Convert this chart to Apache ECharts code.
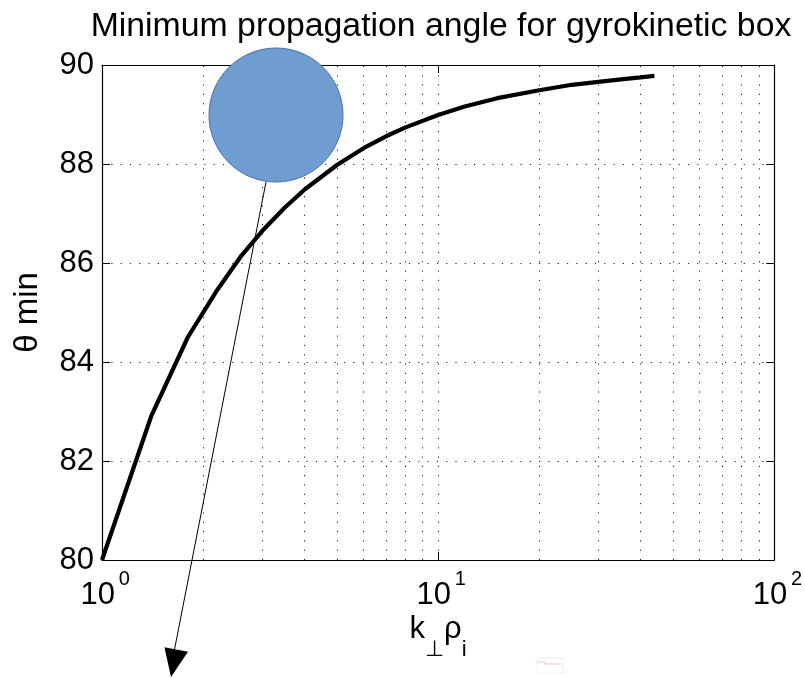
<!DOCTYPE html>
<html>
<head>
<meta charset="utf-8">
<script src="https://cdn.jsdelivr.net/npm/echarts@6/dist/echarts.min.js"></script>
<style>
  html, body { margin: 0; padding: 0; background: #ffffff; }
  #chart { width: 805px; height: 678px; }
</style>
</head>
<body>
<div id="chart"></div>
<script>
// k_perp * rho_i samples and the minimum propagation angle (degrees)
const kPerpRho = [1, 1.4, 1.8, 2.2, 2.6, 3, 3.5, 4, 5, 6, 7, 8, 10, 12, 15, 20, 25, 30, 35, 40, 44];
const thetaMin = [80.0, 82.9, 84.5, 85.45, 86.15, 86.65, 87.12, 87.48, 87.98, 88.32, 88.56, 88.74, 88.99, 89.16, 89.33, 89.49, 89.6, 89.66, 89.71, 89.75, 89.78];

// dotted grid positions on the log axis (minor + major decades)
const xGridValues = [2, 3, 4, 5, 6, 7, 8, 9, 10, 20, 30, 40, 50, 60, 70, 80, 90];
const yGridValues = [82, 84, 86, 88];
// decade exponents shown as superscripts next to the "10" base
const xDecadeExponents = { 1: '0', 10: '1', 100: '2' };

const FONT = 'Liberation Sans';
const chart = echarts.init(document.getElementById('chart'));

const dotted = { color: '#222', width: 1, type: [1.2, 8.1] };
const logRange = { type: 'log', logBase: 10, min: 1, max: 100 };

const option = {
  animation: false,
  backgroundColor: '#ffffff',
  title: {
    text: 'Minimum propagation angle for gyrokinetic box',
    left: 436, top: 5, textAlign: 'center',
    textStyle: { fontFamily: FONT, fontSize: 33.8, fontWeight: 'normal', color: '#000' }
  },
  grid: { left: 102, right: 30, top: 65, bottom: 118 },
  xAxis: [Object.assign({}, logRange, {
    position: 'bottom',
    name: '{n|k}{s|\u22A5}{n|\u03C1}{s|i}',
    nameLocation: 'middle', nameGap: 50,
    nameMoveOverlap: false,
    nameTextStyle: {
      rich: {
        n: { fontFamily: FONT, fontSize: 31, color: '#000', lineHeight: 38 },
        s: { fontFamily: FONT, fontSize: 22, color: '#000', verticalAlign: 'bottom', lineHeight: 38, padding: [0, 0, -13, 0] }
      }
    },
    axisLine: { lineStyle: { color: '#000', width: 1.2 } },
    axisTick: { inside: true, length: 8, lineStyle: { color: '#000' } },
    // decade base; the trailing space leaves room for the exponent
    axisLabel: {
      margin: 20, fontFamily: FONT, fontSize: 31, color: '#000',
      formatter: () => '10 '
    },
    splitLine: { show: false }
  }), Object.assign({}, logRange, {
    position: 'top',
    axisLine: { lineStyle: { color: '#000', width: 1.2 } },
    axisTick: { inside: true, length: 8, lineStyle: { color: '#000' } },
    axisLabel: { show: false },
    splitLine: { show: false }
  }), Object.assign({}, logRange, {
    // exponent row: raised, smaller digits to the right of each "10"
    position: 'bottom',
    axisLine: { show: false },
    axisTick: { show: false },
    axisLabel: {
      margin: 9, fontFamily: FONT, fontSize: 20, color: '#000', align: 'left',
      formatter: v => '   ' + (xDecadeExponents[v] || '')
    },
    splitLine: { show: false }
  })],
  yAxis: [{
    type: 'value', min: 80, max: 90, interval: 2,
    name: '\u03B8 min', nameLocation: 'middle', nameGap: 58,
    nameMoveOverlap: false,
    nameTextStyle: { fontFamily: FONT, fontSize: 33, color: '#000' },
    axisLine: { show: true, lineStyle: { color: '#000', width: 1.2 } },
    axisTick: { show: true, inside: true, length: 8, lineStyle: { color: '#000' } },
    axisLabel: { margin: 8, fontFamily: FONT, fontSize: 31, color: '#000' },
    splitLine: { show: false }
  }, {
    type: 'value', min: 80, max: 90, interval: 2,
    position: 'right',
    axisLine: { show: true, lineStyle: { color: '#000', width: 1.2 } },
    axisTick: { show: true, inside: true, length: 8, lineStyle: { color: '#000' } },
    axisLabel: { show: false },
    splitLine: { show: false }
  }],
  series: [{
    type: 'line',
    xAxisIndex: 0, yAxisIndex: 0,
    data: kPerpRho.map((k, i) => [k, thetaMin[i]]),
    showSymbol: false,
    smooth: false,
    lineStyle: { color: '#000', width: 4.2 },
    z: 5,
    markLine: {
      silent: true,
      symbol: ['none', 'none'],
      label: { show: false },
      lineStyle: dotted,
      animation: false,
      data: xGridValues.map(v => ({ xAxis: v })).concat(yGridValues.map(v => ({ yAxis: v })))
    }
  }],
  graphic: [
    // annotation: filled circle with pointer arrow
    {
      type: 'line', z: 20,
      shape: { x1: 266, y1: 182, x2: 174, y2: 652 },
      style: { stroke: '#000', lineWidth: 1 }
    },
    {
      type: 'polygon', z: 20,
      shape: { points: [[171, 677], [188, 651.7], [164.4, 647.3]] },
      style: { fill: '#000' }
    },
    {
      type: 'circle', z: 21,
      shape: { cx: 276, cy: 115, r: 67 },
      style: { fill: '#6f9dcf', stroke: '#4670b0', lineWidth: 1 }
    },
    // small faint inset near the bottom
    {
      type: 'rect', z: 1,
      shape: { x: 537, y: 658, width: 26, height: 15 },
      style: { fill: 'none', stroke: '#e6e6e6', lineWidth: 0.6 }
    },
    {
      type: 'polyline', z: 1,
      shape: { points: [[538, 662], [545, 662], [545, 664], [562, 664]] },
      style: { stroke: '#f4b4b4', lineWidth: 0.8, fill: 'none' }
    }
  ]
};

chart.setOption(option);
</script>
</body>
</html>
